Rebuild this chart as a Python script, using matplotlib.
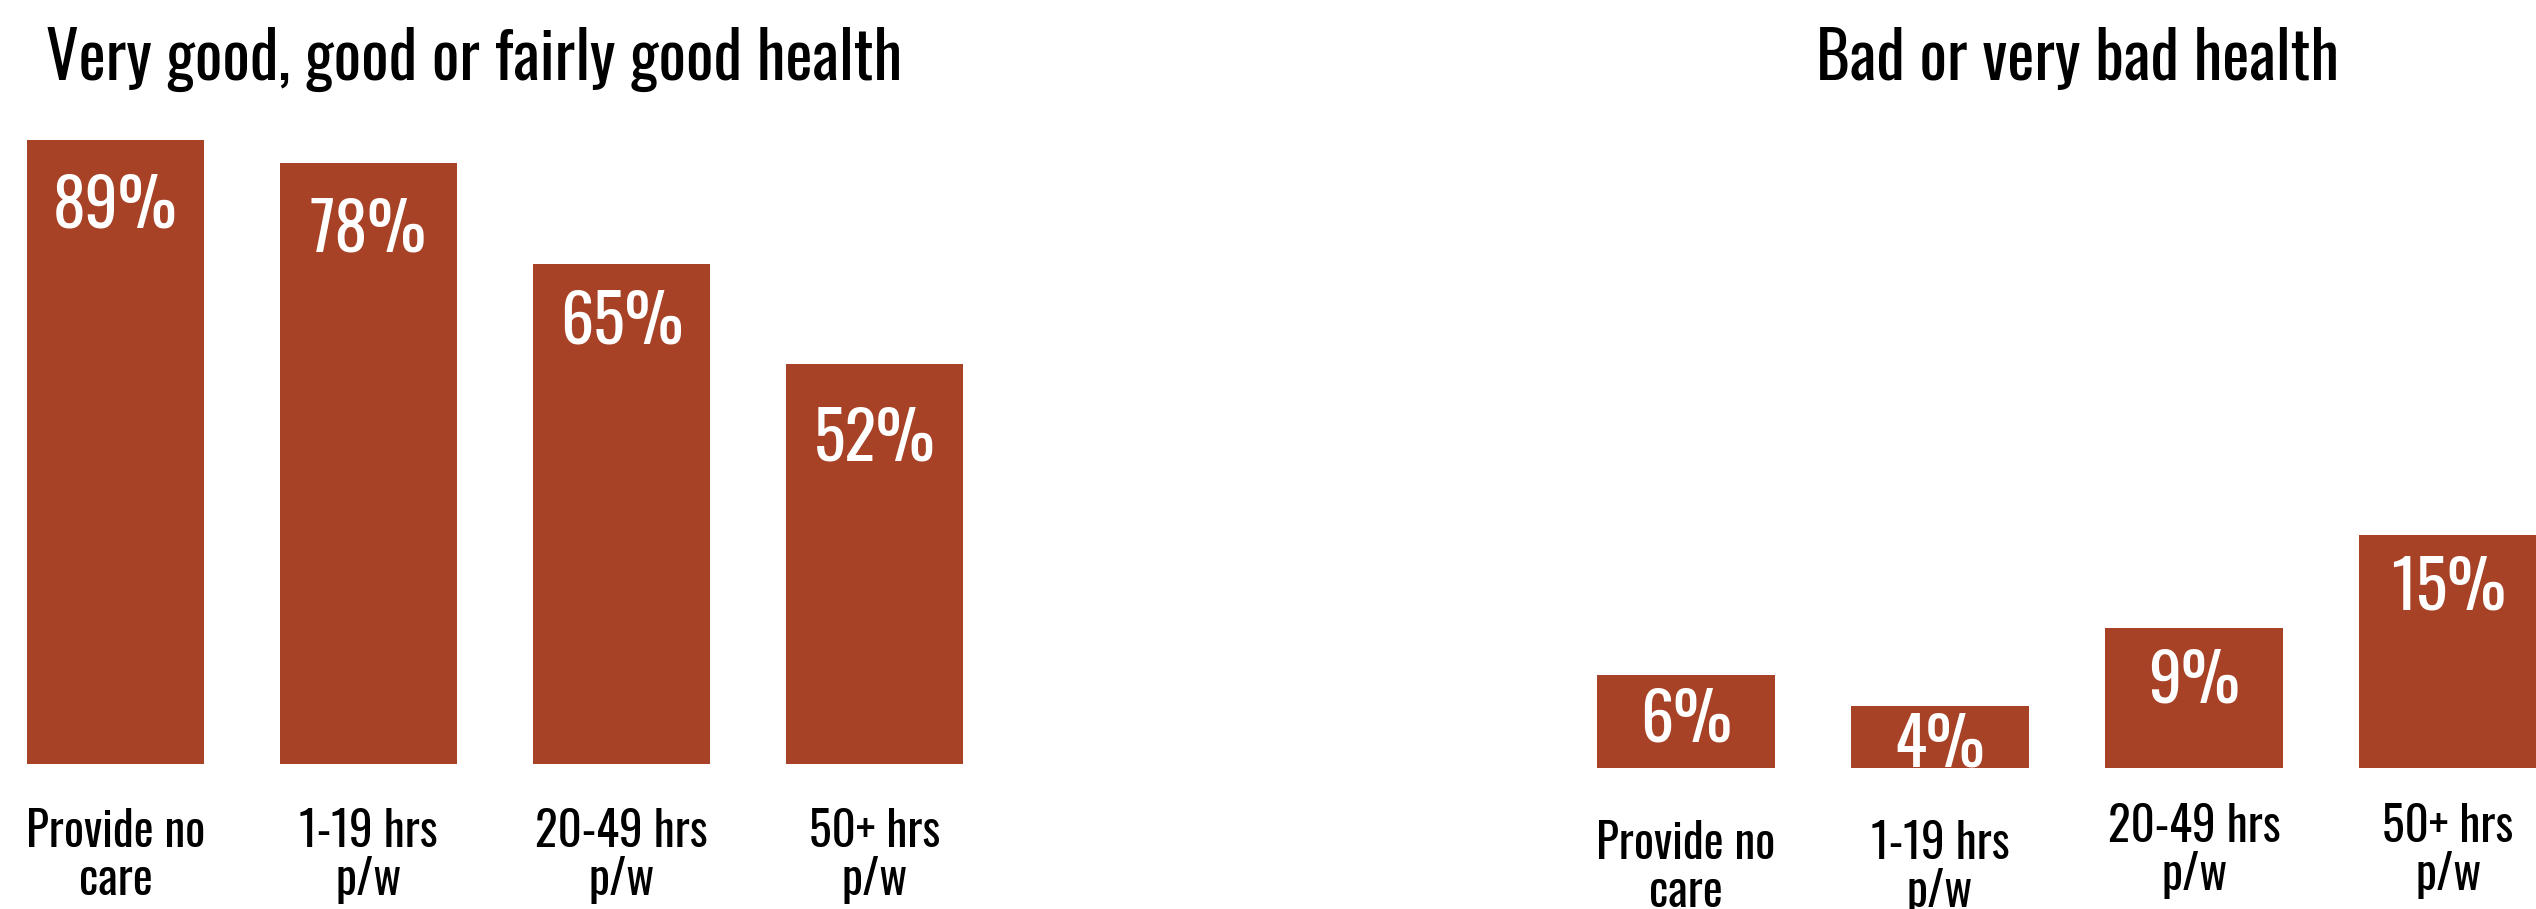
import matplotlib
matplotlib.use("Agg")
import matplotlib.pyplot as plt
from matplotlib import font_manager as fm
import matplotlib.transforms as mtransforms

# ---------------- data ----------------
categories = ["Provide no\ncare", "1-19 hrs\np/w", "20-49 hrs\np/w", "50+ hrs\np/w"]
good_health = [89, 78, 65, 52]
bad_health = [6, 4, 9, 15]
good_title = "Very good, good or fairly good health"
bad_title = "Bad or very bad health"

# ---------------- font choice ----------------
entries = fm.fontManager.ttflist
names = {f.name for f in entries}
family, stretch = "DejaVu Sans", "normal"
picked = False
for cand in ["Oswald", "Liberation Sans Narrow", "Roboto Condensed", "Open Sans Condensed",
             "Noto Sans Condensed", "DejaVu Sans Condensed"]:
    if cand in names:
        family, picked = cand, True
        break
if not picked:
    for f in entries:
        if str(f.stretch) in ("condensed", "semi-condensed", "extra-condensed", "ultra-condensed"):
            family, stretch = f.name, f.stretch
            picked = True
            break


def _w(x):
    try:
        return int(x)
    except Exception:
        return 400


weights = {_w(f.weight) for f in entries if f.name == family}
light = 300 if any(w <= 300 for w in weights) else 400

BAR = "#A84226"
W, H = 2536, 909
fig = plt.figure(figsize=(W / 100, H / 100), dpi=100)


def px_rect(x0, x1, ytop, ybot):
    return [x0 / W, (H - ybot) / H, (x1 - x0) / W, (ybot - ytop) / H]


def draw(ax, values, xlim, ylim, label_offsets_px, cat_top_px):
    x = list(range(len(values)))
    ax.bar(x, values, width=0.70, color=BAR)
    ax.set_xlim(*xlim)
    ax.set_ylim(*ylim)
    ax.axis("off")
    for i, v in enumerate(values):
        ytop = min(v, ylim[1])
        ax.annotate(f"{v}%", xy=(i, ytop), xytext=(0, -label_offsets_px[i] * 0.72),
                    textcoords="offset points", ha="center", va="baseline",
                    color="white", fontsize=47.5, family=family, fontstretch=stretch,
                    fontweight=light)
    trans = mtransforms.blended_transform_factory(ax.transData, fig.transFigure)
    for i, c in enumerate(categories):
        ax.text(i, 1 - cat_top_px[i] / H, c, transform=trans, ha="center", va="top",
                fontsize=34, family=family, fontstretch=stretch, linespacing=1.0,
                color="black", fontweight=400)


ax1 = fig.add_axes(px_rect(0, 1001, 140, 764))
draw(ax1, good_health, (-0.4565, 3.5), (0, 81.04), [87, 88, 80, 97], [808, 808, 808, 808])

ax2 = fig.add_axes(px_rect(1559, 2536, 140, 768))
draw(ax2, bad_health, (-0.5, 3.346), (0, 40.5), [67, 61, 74, 74], [820, 820, 803, 803])

for xc, t in [(474, good_title), (2078, bad_title)]:
    fig.text(xc / W, 1 - 80 / H, t, ha="center", va="baseline", fontsize=46.5,
             family=family, fontstretch=stretch, color="black", fontweight=400)

fig.savefig("out.png", dpi=100, facecolor="white")
